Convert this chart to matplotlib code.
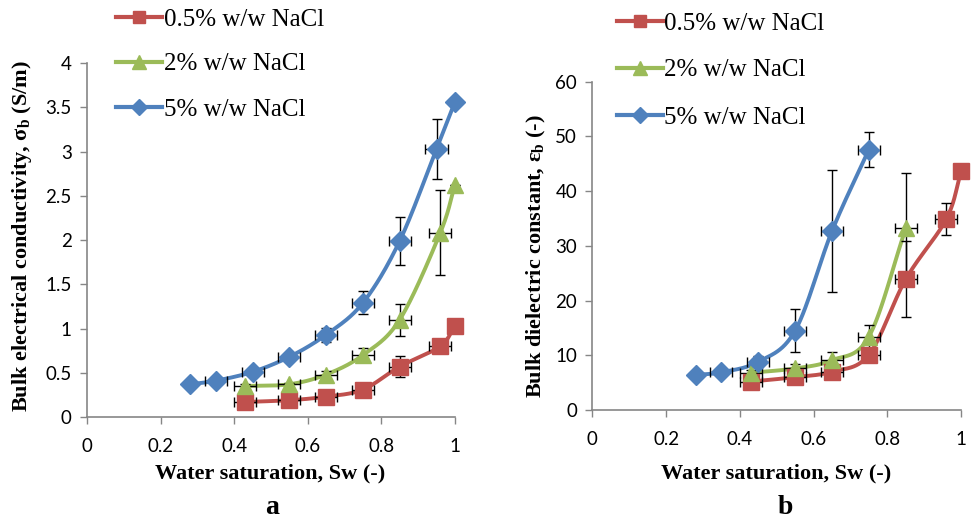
import numpy as np
import matplotlib
matplotlib.use("Agg")
import matplotlib.pyplot as plt
from matplotlib.lines import Line2D

plt.rcParams['mathtext.fontset'] = 'custom'
plt.rcParams['mathtext.rm'] = 'Liberation Serif'
plt.rcParams['mathtext.bf'] = 'Liberation Serif:bold'
plt.rcParams['mathtext.it'] = 'Liberation Serif:italic'

labels = ["0.5% w/w NaCl", "2% w/w NaCl", "5% w/w NaCl"]
colors = ["#C0504D", "#9BBB59", "#4F81BD"]
markers = ["s", "^", "D"]

# Panel a: bulk electrical conductivity (S/m)
a_sw_05 = [0.43, 0.55, 0.65, 0.75, 0.85, 0.96, 1.0]
a_val_05 = [0.17, 0.19, 0.23, 0.31, 0.57, 0.80, 1.03]
a_yerr_05 = [0.02, 0.02, 0.03, 0.04, 0.12, 0.05, 0.0]
a_xerr_05 = [0.03, 0.03, 0.03, 0.03, 0.03, 0.03, 0.0]

a_sw_2 = [0.43, 0.55, 0.65, 0.75, 0.85, 0.96, 1.0]
a_val_2 = [0.35, 0.37, 0.48, 0.70, 1.10, 2.08, 2.62]
a_yerr_2 = [0.02, 0.02, 0.04, 0.08, 0.18, 0.48, 0.0]
a_xerr_2 = [0.03, 0.03, 0.03, 0.03, 0.03, 0.03, 0.0]

a_sw_5 = [0.28, 0.35, 0.45, 0.55, 0.65, 0.75, 0.85, 0.95, 1.0]
a_val_5 = [0.37, 0.41, 0.51, 0.68, 0.93, 1.29, 1.99, 3.03, 3.56]
a_yerr_5 = [0.0, 0.02, 0.03, 0.04, 0.08, 0.13, 0.27, 0.34, 0.0]
a_xerr_5 = [0.0, 0.03, 0.03, 0.03, 0.03, 0.03, 0.03, 0.03, 0.0]

# Panel b: bulk dielectric constant (-)
b_sw_05 = [0.43, 0.55, 0.65, 0.75, 0.85, 0.96, 1.0]
b_val_05 = [5.2, 6.0, 7.0, 10.1, 23.9, 34.9, 43.6]
b_yerr_05 = [0.5, 0.6, 0.8, 1.0, 6.9, 3.0, 0.0]
b_xerr_05 = [0.03, 0.03, 0.03, 0.03, 0.03, 0.03, 0.0]

b_sw_2 = [0.43, 0.55, 0.65, 0.75, 0.85]
b_val_2 = [6.8, 7.6, 9.1, 13.4, 33.2]
b_yerr_2 = [0.6, 0.8, 1.5, 2.1, 10.2]
b_xerr_2 = [0.03, 0.03, 0.03, 0.03, 0.03]

b_sw_5 = [0.28, 0.35, 0.45, 0.55, 0.65, 0.75]
b_val_5 = [6.4, 6.9, 8.8, 14.5, 32.7, 47.6]
b_yerr_5 = [0.0, 0.3, 1.0, 3.9, 11.1, 3.2]
b_xerr_5 = [0.0, 0.03, 0.03, 0.03, 0.03, 0.03]


def smooth(x, y, n=30):
    """Catmull-Rom curve through the points (display-style smoothing)."""
    x = np.asarray(x, float); y = np.asarray(y, float)
    P = np.column_stack([x, y])
    P = np.vstack([P[0] - (P[1] - P[0]), P, P[-1] + (P[-1] - P[-2])])
    out = []
    t = np.linspace(0, 1, n)
    for i in range(1, len(P) - 2):
        p0, p1, p2, p3 = P[i - 1], P[i], P[i + 1], P[i + 2]
        t2 = t[:, None]
        seg = 0.5 * ((2 * p1) + (-p0 + p2) * t2 + (2 * p0 - 5 * p1 + 4 * p2 - p3) * t2 ** 2
                     + (-p0 + 3 * p1 - 3 * p2 + p3) * t2 ** 3)
        out.append(seg)
    S = np.vstack(out)
    return S[:, 0], S[:, 1]


fig = plt.figure(figsize=(9.76, 5.19), dpi=100)
axA = fig.add_axes([0.0891, 0.1965, 0.377, 0.682])
axB = fig.add_axes([0.6069, 0.210, 0.3778, 0.6326])

msizes = [11, 12, 10]

def draw(ax, series, ylim, yticks, yfmt):
    for (sw, val, yerr, xerr), c, m, ms in zip(series, colors, markers, msizes):
        xs, ys = smooth(sw, val)
        ax.plot(xs, ys, color=c, lw=2.8, clip_on=False, zorder=2, solid_capstyle='round')
        ax.errorbar(sw, val, yerr=yerr, xerr=xerr, fmt='none', ecolor='black',
                    elinewidth=1.0, capsize=3.5, capthick=1.0, zorder=3, clip_on=False)
        ax.plot(sw, val, linestyle='none', marker=m, markersize=ms, color=c,
                markeredgecolor=c, zorder=4, clip_on=False)
    ax.set_xlim(0, 1)
    ax.set_ylim(*ylim)
    ax.set_xticks([0, 0.2, 0.4, 0.6, 0.8, 1])
    ax.set_xticklabels(["0", "0.2", "0.4", "0.6", "0.8", "1"])
    ax.set_yticks(yticks)
    ax.set_yticklabels([yfmt(v) for v in yticks])
    for s in ["top", "right"]:
        ax.spines[s].set_visible(False)
    for s in ["left", "bottom"]:
        ax.spines[s].set_color("#868686")
        ax.spines[s].set_linewidth(1.2)
    ax.tick_params(axis='both', direction='out', length=5, width=1.0, color="#868686",
                   labelsize=13.5, pad=6)
    ax.tick_params(axis='x', pad=10)
    for lab in ax.get_xticklabels() + ax.get_yticklabels():
        lab.set_family("Lato")

draw(axA,
     [(a_sw_05, a_val_05, a_yerr_05, a_xerr_05),
      (a_sw_2, a_val_2, a_yerr_2, a_xerr_2),
      (a_sw_5, a_val_5, a_yerr_5, a_xerr_5)],
     (0, 4), [0, 0.5, 1, 1.5, 2, 2.5, 3, 3.5, 4],
     lambda v: ("%g" % v))
draw(axB,
     [(b_sw_05, b_val_05, b_yerr_05, b_xerr_05),
      (b_sw_2, b_val_2, b_yerr_2, b_xerr_2),
      (b_sw_5, b_val_5, b_yerr_5, b_xerr_5)],
     (0, 60), [0, 10, 20, 30, 40, 50, 60],
     lambda v: ("%g" % v))

serif = "Liberation Serif"
W, H = 976, 519
def fx(px): return px / W
def fy(py): return 1 - py / H

fig.text(fx(22), fy(236), r"Bulk electrical conductivity, $\mathbf{\sigma_b}$ (S/m)",
         rotation=90, ha='center', va='center', family=serif, fontweight='bold', fontsize=16)
fig.text(fx(536), fy(256), r"Bulk dielectric constant, $\mathbf{\varepsilon_b}$ (-)",
         rotation=90, ha='center', va='center', family=serif, fontweight='bold', fontsize=16)
fig.text(fx(270), fy(473), "Water saturation, Sw (-)", ha='center', va='center',
         family=serif, fontweight='bold', fontsize=16)
fig.text(fx(776), fy(473), "Water saturation, Sw (-)", ha='center', va='center',
         family=serif, fontweight='bold', fontsize=16)
fig.text(fx(272), fy(507), "a", ha='center', va='center', family=serif,
         fontweight='bold', fontsize=20)
fig.text(fx(785), fy(507), "b", ha='center', va='center', family=serif,
         fontweight='bold', fontsize=20)

handles = [Line2D([], [], color=c, lw=3.0, marker=m, markersize=ms * 0.85, markeredgecolor=c)
           for c, m, ms in zip(colors, markers, msizes)]

def legend(ax, x, y, spacing):
    leg = ax.legend(handles, labels, loc='upper left', bbox_to_anchor=(x, y),
                    bbox_transform=fig.transFigure, frameon=False,
                    prop={'family': serif, 'size': 18}, handlelength=1.85,
                    handletextpad=0.05, labelspacing=spacing, borderpad=0, borderaxespad=0)
    return leg

legend(axA, fx(116), fy(8), 0.9)
legend(axB, fx(617), fy(12), 0.98)

fig.savefig("out.png", dpi=100)
